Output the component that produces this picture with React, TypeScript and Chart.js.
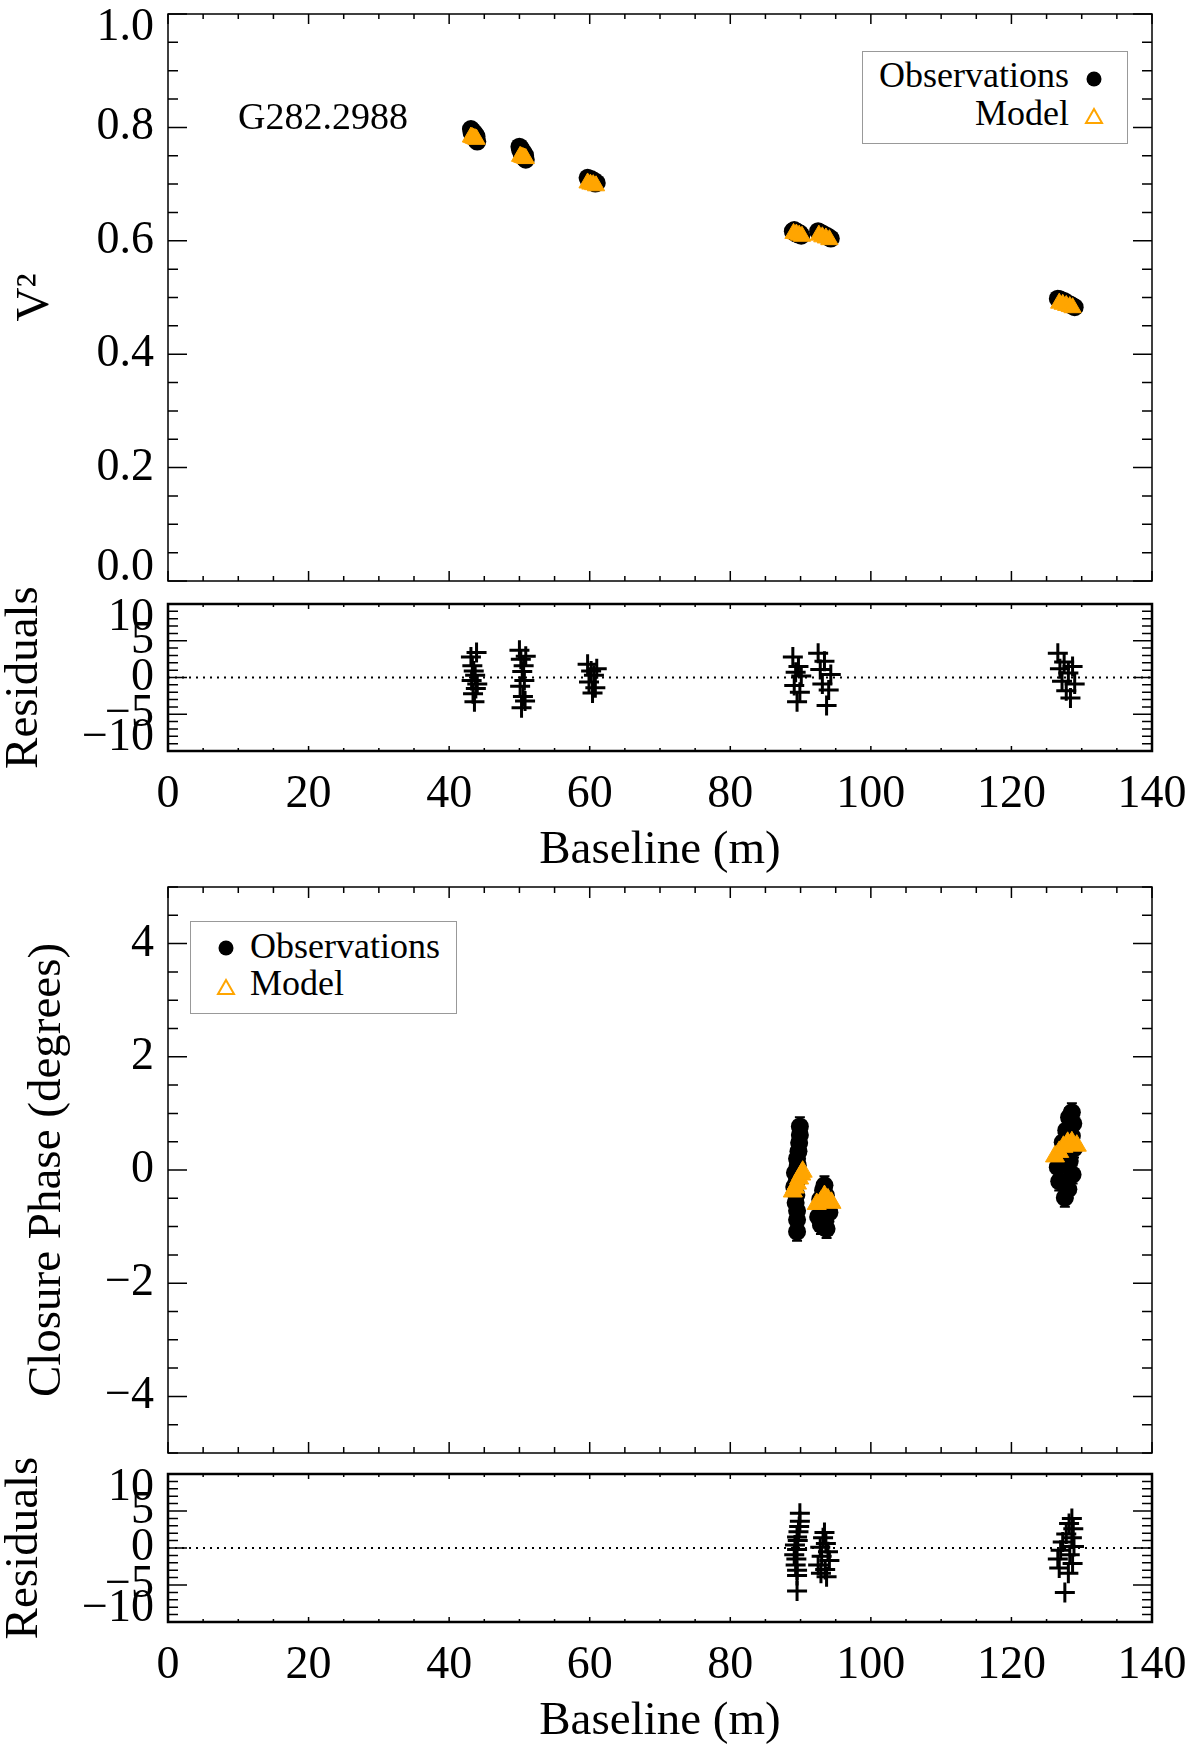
import { useEffect, useRef } from "react"
import Chart from "chart.js/auto"

const SERIF = "'Liberation Serif', 'Times New Roman', Times, serif"
const ORANGE = "#FFA500"

// axis ticks
const BASELINE_TICKS = [0, 20, 40, 60, 80, 100, 120, 140]
const V2_TICKS = [0, 0.2, 0.4, 0.6, 0.8, 1.0]
const CP_TICKS = [-4, -2, 0, 2, 4]
const RESID_TICKS = [-10, -5, 0, 5, 10]

// squared visibilities, one point per spectral channel (baseline in m)
const V2_OBS_BASELINE = [
  43.1, 43.2, 43.3, 43.4, 43.5, 43.6, 43.7, 43.8, 43.9, 44.0,
  50.0, 50.1, 50.2, 50.3, 50.4, 50.5, 50.6, 50.7, 50.8, 50.9,
  59.7, 59.9, 60.2, 60.4, 60.6, 60.8, 61.0,
  88.9, 89.1, 89.3, 89.5, 89.7, 89.9, 90.1,
  92.5, 92.8, 93.1, 93.4, 93.7, 94.0, 94.3,
  126.6, 126.9, 127.2, 127.5, 127.8, 128.1, 128.4, 128.7, 129.0,
]
const V2_OBS = [
  0.797, 0.790, 0.794, 0.785, 0.791, 0.781, 0.788, 0.778, 0.784, 0.775,
  0.766, 0.760, 0.763, 0.754, 0.758, 0.750, 0.755, 0.746, 0.751, 0.743,
  0.711, 0.707, 0.709, 0.704, 0.706, 0.701, 0.702,
  0.617, 0.619, 0.613, 0.616, 0.611, 0.613, 0.609,
  0.617, 0.614, 0.613, 0.610, 0.609, 0.606, 0.604,
  0.498, 0.497, 0.494, 0.494, 0.490, 0.489, 0.487, 0.485, 0.483,
]
const V2_MODEL_BASELINE = [
  43.1, 43.3, 43.5, 43.7, 43.9,
  50.1, 50.3, 50.5, 50.7, 50.9,
  59.7, 60.1, 60.5, 60.9,
  89.0, 89.4, 89.8, 90.2,
  92.6, 93.1, 93.6, 94.1,
  126.8, 127.3, 127.8, 128.3, 128.7,
]
const V2_MODEL = [
  0.783, 0.782, 0.781, 0.780, 0.779,
  0.749, 0.748, 0.747, 0.746, 0.745,
  0.702, 0.700, 0.699, 0.697,
  0.613, 0.612, 0.610, 0.608,
  0.610, 0.607, 0.605, 0.602,
  0.490, 0.488, 0.486, 0.484, 0.482,
]
const V2_RESID = [
  2.8, -0.4, 1.6, -2.2, 0.9, -3.3, 0.3, -1.5, 3.4, -0.9,
  3.7, -1.2, 2.5, -4.1, 0.8, -2.6, 1.6, -0.4, -3.2, 2.9,
  1.8, -0.6, 0.9, -2.1, 0.3, -1.4, 1.2,
  2.8, -1.1, 0.7, -3.3, 1.5, -2.0, 0.2,
  3.3, 1.1, -0.9, 2.2, -3.8, -1.7, 0.4,
  3.3, 1.2, -0.5, 2.1, -1.8, 0.6, -2.8, 1.5, -0.9,
]

// closure phases (degrees)
const CP_OBS_BASELINE = [
  89.9, 89.9, 89.8, 89.7, 89.5, 89.6, 89.2, 89.5, 89.1, 89.4, 89.3, 89.5, 89.5, 89.5,
  93.4, 93.2, 93.6, 92.8, 93.9, 93.0, 94.1, 92.5, 93.5, 92.9, 93.7,
  128.6, 128.2, 128.8, 127.8, 128.6, 127.3, 128.9, 127.0, 128.3, 126.6, 128.7, 126.8, 128.1, 127.6,
]
const CP_OBS = [
  0.77, 0.62, 0.48, 0.33, 0.20, 0.08, -0.05, -0.18, -0.30, -0.44, -0.58, -0.72, -0.88, -1.09,
  -0.27, -0.36, -0.45, -0.52, -0.60, -0.68, -0.75, -0.83, -0.90, -0.97, -1.04,
  1.02, 0.93, 0.82, 0.70, 0.60, 0.49, 0.38, 0.27, 0.16, 0.05, -0.08, -0.20, -0.34, -0.49,
]
const CP_ERR = 0.16
const CP_MODEL_BASELINE = [
  88.9, 89.2, 89.5, 89.8, 90.1, 90.3,
  92.3, 92.9, 93.4, 93.9, 94.4,
  126.2, 126.8, 127.4, 128.0, 128.6, 129.3,
]
const CP_MODEL = [
  -0.38, -0.31, -0.24, -0.15, -0.08, -0.03,
  -0.60, -0.56, -0.46, -0.52, -0.58,
  0.24, 0.32, 0.41, 0.48, 0.49, 0.43,
]
const CP_RESID = [
  4.7, 3.6, 2.9, 2.2, 1.5, 1.0, 0.4, -0.2, -0.9, -1.5, -2.3, -3.0, -3.7, -5.8,
  2.1, 1.4, 0.6, 0.1, -0.5, -1.1, -1.7, -2.3, -2.9, -3.4, -3.9,
  4.0, 3.3, 2.6, 1.9, 1.4, 0.8, 0.2, -0.3, -0.9, -1.5, -2.1, -2.7, -3.4, -6.0,
]

const pts = (xs: number[], ys: number[]) => xs.map((x, i) => ({ x, y: ys[i] }))
const signed = (v: number) => (v < 0 ? "\u2212" + Math.abs(v) : String(v))

const obsSet = (data: { x: number; y: number }[], r: number) => ({
  label: "Observations",
  data,
  pointStyle: "circle",
  pointRadius: r,
  backgroundColor: "#000",
  borderColor: "#000",
  borderWidth: 0,
  order: 1,
})
const modelSet = (data: { x: number; y: number }[], r: number) => ({
  label: "Model",
  data,
  pointStyle: "triangle",
  pointRadius: r,
  backgroundColor: ORANGE,
  borderColor: ORANGE,
  borderWidth: 1,
  order: 0,
})
const residSets = (data: { x: number; y: number }[]) => [
  {
    label: "Residuals",
    data,
    pointStyle: "cross",
    pointRadius: 10,
    borderColor: "#000",
    borderWidth: 3,
    order: 0,
  },
  {
    label: "zero",
    data: [{ x: 0, y: 0 }, { x: 140, y: 0 }],
    showLine: true,
    pointRadius: 0,
    borderColor: "#000",
    borderWidth: 2,
    borderDash: [2, 5],
    order: 1,
  },
]

type PanelProps = {
  top: number
  height: number
  padTop: number
  padBottom: number
  yMin: number
  yMax: number
  yTicks: number[]
  yMinor: number
  yFmt: (v: number) => string
  yTitle: string
  yTitlePad: number
  showX: boolean
  xLen: [number, number]
  frameWidth: number
  datasets: any[]
  errors?: { x: number; y: number }[]
}

function Panel(p: PanelProps) {
  const chartRef = useRef<HTMLCanvasElement>(null)

  useEffect(() => {
    if (!chartRef.current) return

    // box, inward ticks on all four sides, y labels kept inside the box
    const frame = {
      id: "frame",
      afterDraw(chart: any) {
        const { ctx, chartArea: a } = chart
        const xs = chart.scales.x
        const ys = chart.scales.y
        ctx.save()
        ctx.strokeStyle = "#000"
        ctx.lineWidth = 1.5
        ctx.beginPath()
        const nx = Math.round((xs.max - xs.min) / 5)
        for (let i = 0; i <= nx; i++) {
          const v = xs.min + i * 5
          const len = BASELINE_TICKS.includes(v) ? p.xLen[0] : p.xLen[1]
          const px = xs.getPixelForValue(v)
          ctx.moveTo(px, a.bottom)
          ctx.lineTo(px, a.bottom - len)
          ctx.moveTo(px, a.top)
          ctx.lineTo(px, a.top + len)
        }
        const ny = Math.round((ys.max - ys.min) / p.yMinor)
        for (let i = 0; i <= ny; i++) {
          const v = ys.min + i * p.yMinor
          const major = p.yTicks.some((t) => Math.abs(t - v) < p.yMinor / 10)
          const len = major ? 19 : 10
          const py = ys.getPixelForValue(v)
          ctx.moveTo(a.left, py)
          ctx.lineTo(a.left + len, py)
          ctx.moveTo(a.right, py)
          ctx.lineTo(a.right - len, py)
        }
        ctx.stroke()
        ctx.lineWidth = p.frameWidth
        ctx.strokeRect(a.left, a.top, a.right - a.left, a.bottom - a.top)

        ctx.fillStyle = "#000"
        ctx.font = `46px ${SERIF}`
        ctx.textAlign = "right"
        ctx.textBaseline = "middle"
        for (const v of p.yTicks) {
          const py = Math.min(Math.max(ys.getPixelForValue(v), a.top + 14), a.bottom - 13)
          ctx.fillText(p.yFmt(v), a.left - 14, py)
        }
        ctx.restore()
      },
    }

    const errorBars = {
      id: "errorBars",
      beforeDatasetsDraw(chart: any) {
        if (!p.errors) return
        const { ctx } = chart
        const xs = chart.scales.x
        const ys = chart.scales.y
        ctx.save()
        ctx.strokeStyle = "#000"
        ctx.lineWidth = 2
        ctx.beginPath()
        for (const e of p.errors) {
          const px = xs.getPixelForValue(e.x)
          const y1 = ys.getPixelForValue(e.y + CP_ERR)
          const y2 = ys.getPixelForValue(e.y - CP_ERR)
          ctx.moveTo(px, y1)
          ctx.lineTo(px, y2)
          ctx.moveTo(px - 5, y1)
          ctx.lineTo(px + 5, y1)
          ctx.moveTo(px - 5, y2)
          ctx.lineTo(px + 5, y2)
        }
        ctx.stroke()
        ctx.restore()
      },
    }

    const chart = new Chart(chartRef.current, {
      type: "scatter",
      data: { datasets: p.datasets },
      options: {
        animation: false,
        responsive: true,
        maintainAspectRatio: false,
        layout: { padding: { top: p.padTop, bottom: p.padBottom, left: 0, right: 48 } },
        plugins: { legend: { display: false }, tooltip: { enabled: false } },
        scales: {
          x: {
            type: "linear",
            min: 0,
            max: 140,
            display: p.showX,
            grid: { display: false, drawTicks: false },
            border: { display: false },
            ticks: {
              autoSkip: false,
              maxRotation: 0,
              padding: 21,
              color: "#000",
              font: { family: SERIF, size: 46, lineHeight: 1 },
              callback: (v: any) => String(v),
            },
            afterBuildTicks: (s: any) => {
              s.ticks = BASELINE_TICKS.map((value) => ({ value }))
            },
            afterFit: (s: any) => {
              if (p.showX) s.height = 128
              s.paddingLeft = 0
              s.paddingRight = 0
            },
            title: {
              display: p.showX,
              text: "Baseline (m)",
              color: "#000",
              font: { family: SERIF, size: 47, lineHeight: 1 },
              padding: { top: 0, bottom: 5 },
            },
          },
          y: {
            type: "linear",
            min: p.yMin,
            max: p.yMax,
            grid: { display: false, drawTicks: false },
            border: { display: false },
            ticks: { display: false },
            afterFit: (s: any) => {
              s.width = 168
              s.paddingTop = 0
              s.paddingBottom = 0
            },
            title: {
              display: true,
              text: p.yTitle,
              color: "#000",
              font: { family: SERIF, size: 47, lineHeight: 1 },
              padding: { top: p.yTitlePad, bottom: 0 },
            },
          },
        },
      },
      plugins: [errorBars, frame],
    } as any)

    return () => chart.destroy()
  }, [])

  return (
    <div style={{ position: "absolute", left: 0, top: p.top, width: 1200, height: p.height }}>
      <canvas ref={chartRef} />
    </div>
  )
}

export default function App() {
  const text = {
    position: "absolute",
    fontFamily: SERIF,
    color: "#000",
    lineHeight: 1,
    whiteSpace: "nowrap",
  } as const
  const legendBox = {
    position: "absolute",
    border: "1.5px solid #999",
    boxSizing: "border-box",
    background: "#fff",
  } as const

  const cpObs = pts(CP_OBS_BASELINE, CP_OBS)

  return (
    <div
      style={{
        position: "absolute",
        left: 0,
        top: 0,
        width: 1200,
        height: 1756,
        background: "#fff",
        overflow: "hidden",
      }}
    >
      <Panel
        top={0}
        height={600}
        padTop={14}
        padBottom={19}
        yMin={0}
        yMax={1}
        yTicks={V2_TICKS}
        yMinor={0.05}
        yFmt={(v) => v.toFixed(1)}
        yTitle={"V\u00B2"}
        yTitlePad={12}
        showX={false}
        xLen={[10, 5]}
        frameWidth={1.5}
        datasets={[
          modelSet(pts(V2_MODEL_BASELINE, V2_MODEL), 10),
          obsSet(pts(V2_OBS_BASELINE, V2_OBS), 9),
        ]}
      />
      <Panel
        top={552}
        height={327}
        padTop={52}
        padBottom={0}
        yMin={-10}
        yMax={10}
        yTicks={RESID_TICKS}
        yMinor={1}
        yFmt={signed}
        yTitle="Residuals"
        yTitlePad={1}
        showX={true}
        xLen={[5, 3]}
        frameWidth={2.5}
        datasets={residSets(pts(V2_OBS_BASELINE, V2_RESID))}
      />
      <Panel
        top={875}
        height={590}
        padTop={8}
        padBottom={10}
        yMin={-5}
        yMax={5}
        yTicks={CP_TICKS}
        yMinor={0.5}
        yFmt={signed}
        yTitle="Closure Phase (degrees)"
        yTitlePad={24}
        showX={false}
        xLen={[11, 6]}
        frameWidth={1.5}
        datasets={[modelSet(pts(CP_MODEL_BASELINE, CP_MODEL), 11), obsSet(cpObs, 9)]}
        errors={cpObs}
      />
      <Panel
        top={1422}
        height={328}
        padTop={52}
        padBottom={0}
        yMin={-10}
        yMax={10}
        yTicks={RESID_TICKS}
        yMinor={1}
        yFmt={signed}
        yTitle="Residuals"
        yTitlePad={1}
        showX={true}
        xLen={[5, 3]}
        frameWidth={2.5}
        datasets={residSets(pts(CP_OBS_BASELINE, CP_RESID))}
      />

      <div style={{ ...text, left: 238, top: 97, fontSize: 38 }}>G282.2988</div>

      {/* legend, visibility panel */}
      <div style={{ ...legendBox, left: 862, top: 51, width: 266, height: 93 }} />
      <div style={{ ...text, right: 1200 - 1069, top: 75 - 18, fontSize: 36 }}>Observations</div>
      <div style={{ ...text, right: 1200 - 1069, top: 113 - 18, fontSize: 36 }}>Model</div>
      <svg width={16} height={16} style={{ position: "absolute", left: 1094 - 8, top: 79 - 8 }}>
        <circle cx={8} cy={8} r={7.5} fill="#000" />
      </svg>
      <svg width={20} height={18} style={{ position: "absolute", left: 1094 - 10, top: 116 - 9 }}>
        <polygon points="10,2 18,16 2,16" fill="none" stroke={ORANGE} strokeWidth={2} />
      </svg>

      {/* legend, closure phase panel */}
      <div style={{ ...legendBox, left: 190, top: 921, width: 267, height: 93 }} />
      <div style={{ ...text, left: 250, top: 946 - 18, fontSize: 36 }}>Observations</div>
      <div style={{ ...text, left: 250, top: 983 - 18, fontSize: 36 }}>Model</div>
      <svg width={16} height={16} style={{ position: "absolute", left: 226 - 8, top: 948 - 8 }}>
        <circle cx={8} cy={8} r={7.5} fill="#000" />
      </svg>
      <svg width={20} height={18} style={{ position: "absolute", left: 226 - 10, top: 987 - 9 }}>
        <polygon points="10,2 18,16 2,16" fill="none" stroke={ORANGE} strokeWidth={2} />
      </svg>
    </div>
  )
}
